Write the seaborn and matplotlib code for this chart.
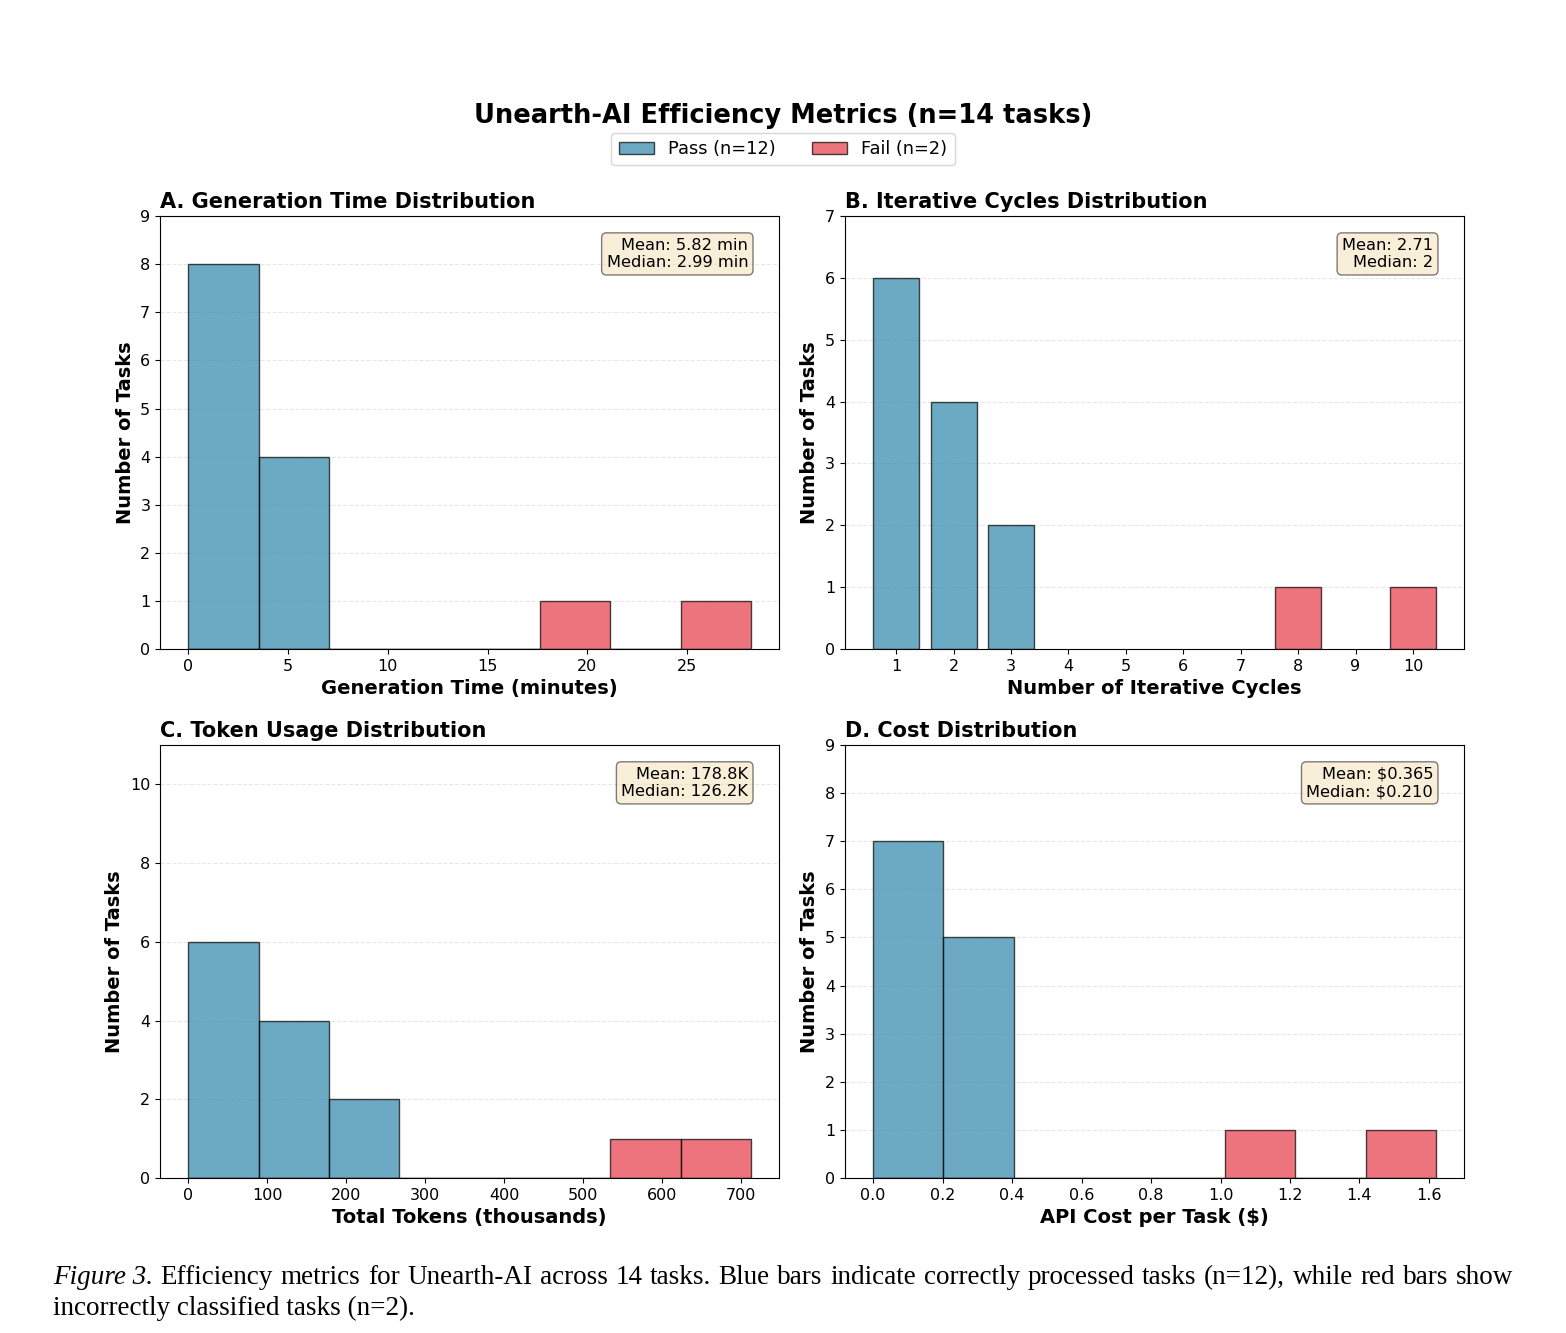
import numpy as np
import pandas as pd
import matplotlib
matplotlib.use("Agg")
import matplotlib.pyplot as plt
import seaborn as sns
from matplotlib.patches import Patch

# bin counts (8 equal bins from 0 to the max value)
time_max = 28.2
pass_time = [8, 4, 0, 0, 0, 0, 0, 0]
fail_time = [0, 0, 0, 0, 0, 1, 0, 1]

cycles = [1, 2, 3, 4, 5, 6, 7, 8, 9, 10]
pass_cycles = [6, 4, 2, 0, 0, 0, 0, 0, 0, 0]
fail_cycles = [0, 0, 0, 0, 0, 0, 0, 1, 0, 1]

token_max = 712.5
pass_tokens = [6, 4, 2, 0, 0, 0, 0, 0]
fail_tokens = [0, 0, 0, 0, 0, 0, 1, 1]

cost_max = 1.62
pass_cost = [7, 5, 0, 0, 0, 0, 0, 0]
fail_cost = [0, 0, 0, 0, 0, 1, 0, 1]

stats_text = ["Mean: 5.82 min\nMedian: 2.99 min",
              "Mean: 2.71\nMedian: 2",
              "Mean: 178.8K\nMedian: 126.2K",
              "Mean: $0.365\nMedian: $0.210"]
titles = ["A. Generation Time Distribution", "B. Iterative Cycles Distribution",
          "C. Token Usage Distribution", "D. Cost Distribution"]
xlabels = ["Generation Time (minutes)", "Number of Iterative Cycles",
           "Total Tokens (thousands)", "API Cost per Task ($)"]
ylims = [9, 7, 11, 9]

caption_line1 = ("Efficiency metrics for Unearth-AI across 14 tasks. Blue bars indicate "
                 "correctly processed tasks (n=12), while red bars show")
caption_line2 = "incorrectly classified tasks (n=2)."

pass_color = "#2E86AB"
fail_color = "#E63946"
edge = (0, 0, 0, 0.7)

plt.rcParams['font.family'] = ['DejaVu Sans']
fig = plt.figure(figsize=(15.66, 13.33), dpi=100)

positions = [[0.1022, 0.5131, 0.3953, 0.3248], [0.5396, 0.5131, 0.3953, 0.3248],
             [0.1022, 0.1163, 0.3953, 0.3248], [0.5396, 0.1163, 0.3953, 0.3248]]
axes = [fig.add_axes(p) for p in positions]

def draw_hist(ax, vmax, p_counts, f_counts):
    edges = [float(e) for e in np.linspace(0, vmax, len(p_counts) + 1)]
    centers = [(edges[k] + edges[k + 1]) / 2 for k in range(len(p_counts))]
    df = pd.DataFrame({"x": centers, "p": p_counts, "f": f_counts})
    sns.histplot(data=df, x="x", weights="p", bins=edges, ax=ax, color=pass_color,
                 alpha=0.7, edgecolor=edge, linewidth=1)
    sns.histplot(data=df, x="x", weights="f", bins=edges, ax=ax, color=fail_color,
                 alpha=0.7, edgecolor=edge, linewidth=1)

draw_hist(axes[0], time_max, pass_time, fail_time)
dfc = pd.DataFrame({"x": cycles, "p": pass_cycles, "f": fail_cycles})
sns.histplot(data=dfc[dfc["p"] > 0], x="x", weights="p", discrete=True, shrink=0.8,
             ax=axes[1], color=pass_color, alpha=0.7, edgecolor=edge, linewidth=1)
sns.histplot(data=dfc[dfc["f"] > 0], x="x", weights="f", discrete=True, shrink=0.8,
             ax=axes[1], color=fail_color, alpha=0.7, edgecolor=edge, linewidth=1)
# the cycle counts are plain bars, so drop empty slots
for p in list(axes[1].patches):
    if p.get_height() == 0:
        p.remove()
axes[1].set_xlim(0.11, 10.89)
axes[1].set_xticks(cycles)
draw_hist(axes[2], token_max, pass_tokens, fail_tokens)
draw_hist(axes[3], cost_max, pass_cost, fail_cost)

for i, ax in enumerate(axes):
    ax.set_ylim(0, ylims[i])
    ax.set_title(titles[i], fontsize=15, fontweight="bold", loc="left")
    ax.set_xlabel(xlabels[i], fontsize=14, fontweight="bold")
    ax.set_ylabel("Number of Tasks", fontsize=14, fontweight="bold")
    ax.tick_params(labelsize=11.5)
    ax.grid(axis="y", linestyle="--", alpha=0.3)
    ax.set_axisbelow(True)
    ax.text(0.95, 0.95, stats_text[i], transform=ax.transAxes, ha="right", va="top",
            fontsize=11.7, bbox=dict(boxstyle="round", facecolor="wheat", alpha=0.5))

fig.suptitle("Unearth-AI Efficiency Metrics (n=14 tasks)", fontsize=18.5,
             fontweight="bold", y=0.923)
handles = [Patch(facecolor=pass_color, alpha=0.7, edgecolor="black", label="Pass (n=12)"),
           Patch(facecolor=fail_color, alpha=0.7, edgecolor="black", label="Fail (n=2)")]
fig.legend(handles=handles, loc="center", bbox_to_anchor=(0.5, 0.888), ncol=2,
           fontsize=12.8)

# caption below the figure, first line justified like the paper text
serif = ['Liberation Serif', 'DejaVu Serif']
cap_size = 19.5
words = [("Figure 3.", "italic")] + [(w, "normal") for w in caption_line1.split()]
texts = [fig.text(0, 0.0367, w, fontsize=cap_size, family=serif, style=s,
                  va="baseline") for w, s in words]
renderer = fig.canvas.get_renderer()
widths = [t.get_window_extent(renderer).width / fig.bbox.width for t in texts]
x_start, x_end = 53 / 1566, 1513 / 1566
gap = (x_end - x_start - sum(widths)) / (len(texts) - 1)
x = x_start
for t, w in zip(texts, widths):
    t.set_x(x)
    x += w + gap
fig.text(x_start, 0.0135, caption_line2, fontsize=cap_size, family=serif, va="baseline")

fig.savefig("out.png", dpi=100)
